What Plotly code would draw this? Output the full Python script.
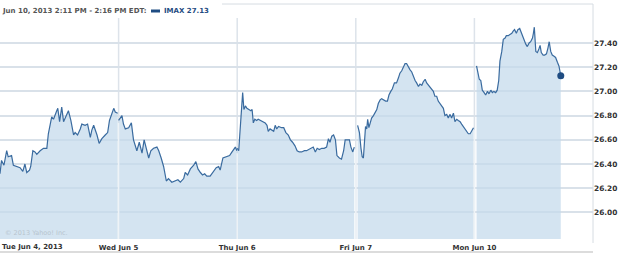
import plotly.graph_objects as go

# ---------------- data ----------------
DAY_MINUTES = 390  # 9:30 - 16:00
day_labels = ["Tue Jun 4, 2013", "Wed Jun 5", "Thu Jun 6", "Fri Jun 7", "Mon Jun 10"]

tue_min = [0, 5, 13, 22, 27, 38, 44, 55, 66, 75, 82, 88, 97, 101, 108, 115, 121, 132, 143, 154, 159, 170,
           176, 185, 190, 196, 203, 209, 218, 225, 233, 242, 247, 255, 264, 269, 280, 288, 297, 302, 308,
           319, 326, 335, 346, 354, 360, 368, 374, 379, 387]
tue_px = [26.32, 26.43, 26.39, 26.51, 26.46, 26.47, 26.39, 26.38, 26.37, 26.34, 26.40, 26.33, 26.35, 26.38,
          26.51, 26.50, 26.48, 26.51, 26.53, 26.53, 26.65, 26.79, 26.77, 26.83, 26.86, 26.75, 26.87, 26.75,
          26.80, 26.84, 26.76, 26.64, 26.66, 26.64, 26.69, 26.73, 26.72, 26.73, 26.62, 26.68, 26.72, 26.64,
          26.57, 26.61, 26.64, 26.66, 26.76, 26.82, 26.86, 26.83, 26.82]

wed_min = [0, 5, 11, 16, 22, 33, 42, 49, 55, 60, 68, 77, 84, 93, 99, 106, 115, 126, 132, 140, 148, 157, 164,
           175, 186, 195, 203, 214, 219, 227, 236, 247, 254, 261, 269, 276, 283, 290, 301, 312, 321, 329,
           334, 343, 356, 365, 373, 384, 389]
wed_px = [26.76, 26.78, 26.80, 26.73, 26.69, 26.70, 26.74, 26.60, 26.55, 26.51, 26.58, 26.49, 26.60, 26.52,
          26.45, 26.51, 26.53, 26.54, 26.51, 26.45, 26.38, 26.26, 26.28, 26.25, 26.26, 26.27, 26.25, 26.28,
          26.33, 26.31, 26.36, 26.39, 26.42, 26.36, 26.33, 26.31, 26.32, 26.30, 26.30, 26.34, 26.37, 26.38,
          26.35, 26.45, 26.46, 26.47, 26.50, 26.54, 26.51]

thu_min = [0, 5, 9, 14, 18, 22, 27, 32, 40, 45, 49, 53, 58, 64, 69, 76, 84, 92, 98, 102, 108, 113, 120, 125,
           130, 136, 146, 153, 160, 168, 175, 182, 190, 197, 204, 212, 221, 228, 237, 245, 250, 257, 263,
           270, 278, 286, 294, 300, 305, 311, 317, 323, 328, 336, 343, 350, 355, 363, 369, 374, 380, 385]
thu_px = [26.53, 26.51, 26.66, 26.88, 26.99, 26.85, 26.88, 26.86, 26.85, 26.84, 26.85, 26.74, 26.77, 26.76,
          26.77, 26.76, 26.75, 26.74, 26.72, 26.67, 26.69, 26.68, 26.67, 26.72, 26.69, 26.71, 26.70, 26.70,
          26.66, 26.64, 26.60, 26.58, 26.55, 26.51, 26.50, 26.50, 26.51, 26.51, 26.52, 26.53, 26.54, 26.50,
          26.53, 26.52, 26.53, 26.53, 26.54, 26.61, 26.58, 26.63, 26.64, 26.60, 26.47, 26.45, 26.44, 26.51,
          26.60, 26.60, 26.60, 26.54, 26.50, 26.54]

fri_min = [6, 12, 17, 21, 25, 28, 32, 36, 39, 43, 48, 52, 58, 63, 69, 74, 80, 85, 91, 98, 104, 109, 115, 120,
           127, 134, 140, 145, 151, 156, 162, 167, 173, 178, 184, 189, 195, 200, 206, 211, 217, 222, 228,
           233, 239, 244, 250, 255, 260, 266, 271, 277, 282, 288, 293, 299, 304, 310, 315, 321, 326, 332,
           337, 343, 348, 354, 359, 365, 370, 376, 381, 387]
fri_px = [26.72, 26.66, 26.53, 26.46, 26.45, 26.55, 26.71, 26.69, 26.77, 26.70, 26.75, 26.78, 26.80, 26.82,
          26.85, 26.90, 26.93, 26.94, 26.93, 26.92, 26.92, 26.97, 27.00, 27.02, 27.07, 27.07, 27.11, 27.15,
          27.17, 27.20, 27.23, 27.23, 27.20, 27.18, 27.16, 27.12, 27.09, 27.07, 27.04, 27.06, 27.05, 27.08,
          27.10, 27.07, 27.05, 27.03, 27.02, 27.00, 26.96, 26.96, 26.92, 26.90, 26.88, 26.86, 26.80, 26.81,
          26.78, 26.81, 26.78, 26.82, 26.75, 26.77, 26.76, 26.75, 26.73, 26.71, 26.69, 26.67, 26.65, 26.65,
          26.67, 26.70]

mon_min = [7, 12, 16, 21, 26, 32, 37, 43, 48, 54, 59, 64, 70, 75, 80, 84, 90, 95, 101, 105, 111, 117, 123,
           128, 132, 138, 143, 149, 152, 158, 163, 169, 174, 180, 185, 191, 194, 197, 202, 207, 212, 216,
           220, 226, 231, 237, 242, 246, 251, 256, 262, 267, 273, 278, 284]
mon_px = [27.21, 27.16, 27.10, 27.09, 27.01, 26.99, 26.97, 27.00, 26.98, 27.01, 26.99, 27.00, 26.99, 27.01,
          27.09, 27.25, 27.33, 27.43, 27.44, 27.46, 27.46, 27.47, 27.48, 27.50, 27.51, 27.48, 27.51, 27.52,
          27.50, 27.47, 27.42, 27.39, 27.37, 27.40, 27.41, 27.44, 27.48, 27.53, 27.33, 27.32, 27.35, 27.38,
          27.32, 27.30, 27.30, 27.31, 27.36, 27.41, 27.33, 27.30, 27.29, 27.28, 27.24, 27.21, 27.13]

days_min = [tue_min, wed_min, thu_min, fri_min, mon_min]
days_px = [tue_px, wed_px, thu_px, fri_px, mon_px]

y_tickvals = [26.00, 26.20, 26.40, 26.60, 26.80, 27.00, 27.20, 27.40, 27.60]
y_ticktext = ["26.00", "26.20", "26.40", "26.60", "26.80", "27.00", "27.20", "27.40", ""]

header_text = "Jun 10, 2013 2:11 PM - 2:16 PM EDT:"
legend_text = "IMAX 27.13"
copyright_text = "© 2013 Yahoo! Inc."

# ---------------- style ----------------
LINE = "#3a6b9f"
FILL = "rgba(195,218,235,0.72)"
GRID = "#d9e1e9"
DARK = "#1f4c82"
FONT = "DejaVu Sans"
XFS = 7   # x labels / header size
YFS = 7.4

W, H = 625, 255
ML, MR, MT, MB = 0, 32, 18, 16
PH = H - MT - MB


def py(px_from_top):
    """paper y from a pixel row"""
    return (H - MB - px_from_top) / PH


fig = go.Figure()
for i, (mins, prices) in enumerate(zip(days_min, days_px)):
    fig.add_trace(go.Scatter(
        x=[i * DAY_MINUTES + m for m in mins], y=prices, mode="lines",
        line=dict(color=LINE, width=1.2), fill="tozeroy", fillcolor=FILL,
        hoverinfo="skip", showlegend=False))

fig.add_trace(go.Scatter(
    x=[4 * DAY_MINUTES + mon_min[-1]], y=[mon_px[-1]], mode="markers",
    marker=dict(color=DARK, size=7), showlegend=False, hoverinfo="skip"))

shapes = []
for i in range(1, 5):
    xb = i * DAY_MINUTES
    shapes.append(dict(type="line", xref="x", yref="paper", x0=xb, x1=xb, y0=0, y1=1,
                       line=dict(color="#dde3ea", width=1.5), layer="below"))
    top = min(days_px[i - 1][-1], days_px[i][0]) - 0.02
    shapes.append(dict(type="line", xref="x", yref="y", x0=xb, x1=xb, y0=25.0, y1=top,
                       line=dict(color="#eef3f7", width=1.5), layer="above"))
# frame pieces
shapes.append(dict(type="line", xref="paper", yref="paper", x0=1, x1=1, y0=py(243), y1=py(4),
                   line=dict(color="#d6dce2", width=1)))
shapes.append(dict(type="line", xref="paper", yref="paper", x0=222 / 593, x1=1, y0=py(4), y1=py(4),
                   line=dict(color="#d6dce2", width=1)))
shapes.append(dict(type="line", xref="paper", yref="paper", x0=0, x1=1, y0=py(252), y1=py(252),
                   line=dict(color="#dcdcdc", width=2)))
# legend swatch
shapes.append(dict(type="rect", xref="paper", yref="paper", x0=151 / 593, x1=160 / 593,
                   y0=py(12.5), y1=py(9.5), fillcolor=DARK, line=dict(width=0)))

annotations = [
    dict(text=day_labels[0], xref="x", yref="paper", x=0, y=py(246.5), xanchor="left", yanchor="middle",
         showarrow=False, font=dict(family=FONT, size=XFS, color="#333333", weight="bold")),
    dict(text=header_text, xref="paper", yref="paper", x=0, y=py(11), xanchor="left", yanchor="middle",
         showarrow=False, font=dict(family=FONT, size=XFS, color="#555555", weight="bold")),
    dict(text=legend_text, xref="paper", yref="paper", x=162 / 593, y=py(11), xanchor="left",
         yanchor="middle", showarrow=False, font=dict(family=FONT, size=XFS, color="#1f4c82", weight="bold")),
    dict(text=copyright_text, xref="paper", yref="paper", x=3 / 593, y=py(233), xanchor="left",
         yanchor="middle", showarrow=False, font=dict(family=FONT, size=6.5, color="#b8c5cf")),
]

fig.update_layout(
    width=W, height=H, margin=dict(l=ML, r=MR, t=MT, b=MB, pad=0),
    paper_bgcolor="white", plot_bgcolor="white",
    shapes=shapes, annotations=annotations, showlegend=False,
    xaxis=dict(range=[0, 5 * DAY_MINUTES],
               tickvals=[i * DAY_MINUTES for i in range(1, 5)], ticktext=day_labels[1:],
               showgrid=False, zeroline=False, showline=False, ticks="", ticklabelstandoff=3,
               tickfont=dict(family=FONT, size=XFS, color="#333333", weight="bold")),
    yaxis=dict(range=[25.781, 27.606], side="right", tickvals=y_tickvals, ticktext=y_ticktext,
               showgrid=True, gridcolor=GRID, gridwidth=1.5, zeroline=False, showline=False,
               ticks="", tickfont=dict(family=FONT, size=YFS, color="#333333", weight="bold")),
)

fig.write_html("out.html")
